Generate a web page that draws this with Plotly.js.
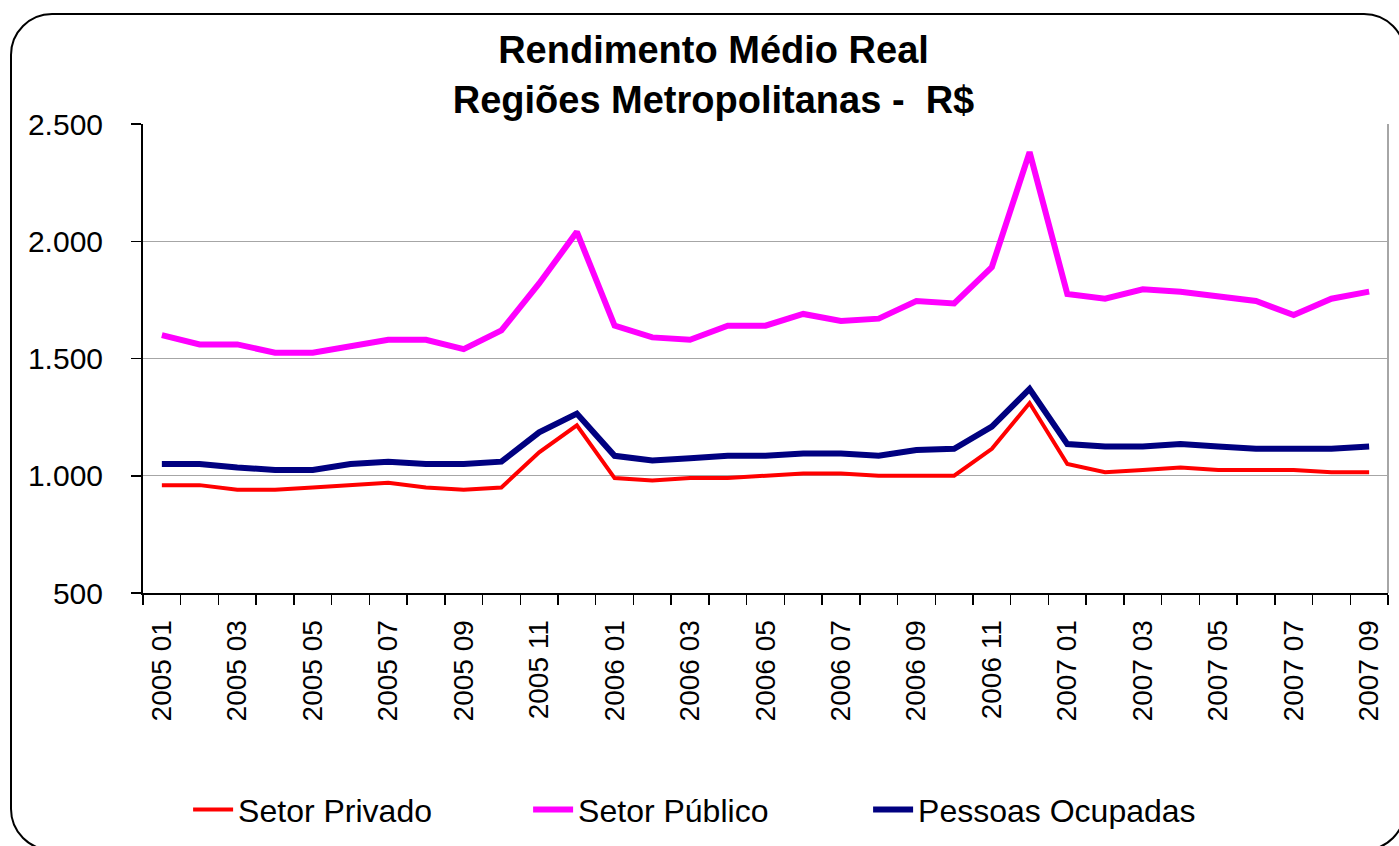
<!DOCTYPE html>
<html>
<head>
<meta charset="utf-8">
<script src="https://cdn.plot.ly/plotly-3.0.1.min.js"></script>
<style>
  html, body { margin: 0; padding: 0; background: #ffffff; overflow: hidden; }
  #wrap { position: relative; width: 1399px; height: 846px; overflow: hidden; }
  #chart { position: absolute; left: 0; top: 0; width: 1399px; height: 846px; }
  #frame { position: absolute; left: 10px; top: 13px; width: 1396px; height: 838px;
           border: 2px solid #000; border-radius: 42px; box-sizing: border-box; pointer-events: none; }
</style>
</head>
<body>
<div id="wrap">
  <div id="chart"></div>
  <div id="frame"></div>
</div>
<script>
// Categories (months)
const months = [
  "2005 01","2005 02","2005 03","2005 04","2005 05","2005 06","2005 07","2005 08","2005 09","2005 10","2005 11","2005 12",
  "2006 01","2006 02","2006 03","2006 04","2006 05","2006 06","2006 07","2006 08","2006 09","2006 10","2006 11","2006 12",
  "2007 01","2007 02","2007 03","2007 04","2007 05","2007 06","2007 07","2007 08","2007 09"
];

// Series values (R$)
const setorPrivado = [
  960, 960, 940, 940, 950, 960, 970, 950, 940, 950, 1100, 1215,
  990, 980, 990, 990, 1000, 1010, 1010, 1000, 1000, 1000, 1115, 1310,
  1050, 1015, 1025, 1035, 1025, 1025, 1025, 1015, 1015
];
const setorPublico = [
  1600, 1560, 1560, 1525, 1525, 1550, 1580, 1580, 1540, 1620, 1820, 2040,
  1640, 1590, 1580, 1640, 1640, 1690, 1660, 1670, 1745, 1735, 1890, 2380,
  1775, 1755, 1795, 1785, 1765, 1745, 1685, 1755, 1785
];
const pessoasOcupadas = [
  1050, 1050, 1035, 1025, 1025, 1050, 1060, 1050, 1050, 1060, 1185, 1265,
  1085, 1065, 1075, 1085, 1085, 1095, 1095, 1085, 1110, 1115, 1210, 1370,
  1135, 1125, 1125, 1135, 1125, 1115, 1115, 1115, 1125
];

// Tick labels (every other month is labelled)
const xTickLabels = [
  "2005 01","","2005 03","","2005 05","","2005 07","","2005 09","","2005 11","",
  "2006 01","","2006 03","","2006 05","","2006 07","","2006 09","","2006 11","",
  "2007 01","","2007 03","","2007 05","","2007 07","","2007 09"
];
const yTickVals = [500, 1000, 1500, 2000, 2500];

const FONT = "Liberation Sans, Arial, Helvetica, sans-serif";

const traces = [
  { x: months, y: setorPrivado, name: "Setor Privado", type: "scatter", mode: "lines",
    line: { color: "#FF0000", width: 4 } },
  { x: months, y: setorPublico, name: "Setor Público", type: "scatter", mode: "lines",
    line: { color: "#FF00FF", width: 6 } },
  { x: months, y: pessoasOcupadas, name: "Pessoas Ocupadas", type: "scatter", mode: "lines",
    line: { color: "#000080", width: 6 } }
];

const layout = {
  width: 1399, height: 846,
  margin: { l: 143, r: 11, t: 124, b: 253 },
  paper_bgcolor: "#ffffff", plot_bgcolor: "#ffffff",
  separators: ",.",
  font: { family: FONT, color: "#000000" },
  title: {
    text: "<b>Rendimento Médio Real<br>Regiões Metropolitanas -&nbsp; R$</b>",
    font: { family: FONT, size: 38, color: "#000000" },
    x: 0.51, xref: "container", xanchor: "center",
    y: 0.925, yref: "container", yanchor: "top"
  },
  xaxis: {
    type: "category",
    tickmode: "array", tickvals: months, ticktext: xTickLabels,
    tickangle: -90, tickfont: { family: FONT, size: 28, color: "#000" },
    ticks: "outside", ticklen: 10, tickwidth: 1.5, tickcolor: "#000",
    tickson: "boundaries",
    showline: true, linecolor: "#000", linewidth: 2,
    showgrid: false, zeroline: false, fixedrange: true,
    range: [-0.5, months.length - 0.5],
    ticklabelstandoff: 14
  },
  yaxis: {
    range: [500, 2500], tickmode: "array", tickvals: yTickVals,
    separatethousands: true, tickformat: ",d",
    tickfont: { family: FONT, size: 30, color: "#000" },
    ticks: "outside", ticklen: 10, tickwidth: 1.5, tickcolor: "#000",
    showline: true, linecolor: "#000", linewidth: 2,
    showgrid: true, gridcolor: "#A6A6A6", gridwidth: 1.2,
    zeroline: false, fixedrange: true,
    ticklabelstandoff: 22
  },
  shapes: [
    { type: "line", xref: "paper", yref: "paper", x0: 1, x1: 1, y0: 0, y1: 1,
      line: { color: "#A6A6A6", width: 2 } }
  ],
  showlegend: true,
  legend: {
    orientation: "h", xref: "container", x: 0.499, xanchor: "center",
    yref: "container", y: 0.043, yanchor: "middle",
    font: { family: FONT, size: 32, color: "#000" },
    bgcolor: "rgba(0,0,0,0)", borderwidth: 0,
    entrywidth: 285, entrywidthmode: "pixels", itemwidth: 40
  }
};

Plotly.newPlot("chart", traces, layout, { staticPlot: true, displayModeBar: false });
</script>
</body>
</html>
